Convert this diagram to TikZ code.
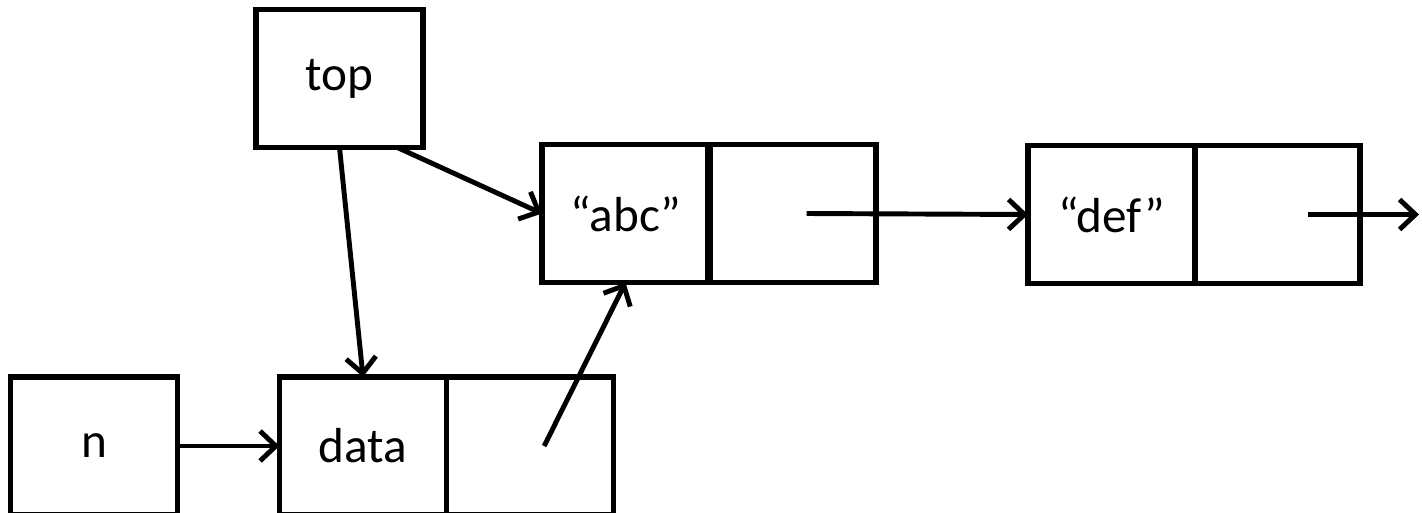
\documentclass[tikz,border=0pt]{standalone}
\usepackage{fontspec}
\setmainfont{Carlito}
\usetikzlibrary{positioning,arrows.meta}

\tikzset{
  cell/.style={draw, line width=1.6pt, minimum width=1.67cm, minimum height=1.38cm,
               inner sep=0pt, outer sep=0pt, font=\fontsize{14}{16}\selectfont},
  ptr/.style={line width=1.4pt, -{Straight Barb[length=4.5pt,width=8.5pt]}}
}

\begin{document}
\begin{tikzpicture}[x=0.01cm,y=-0.01cm]
	    \clip (0,0) rectangle (1422,512);
	    % pointer variables
	    \node[cell] (top) at (339.5,78.5) {top};
	    \node[cell] (n) at (94,446) {n};
	    % list cells
	    \node[cell] (data) at (363,446) {data};
	    \node[cell, right=0pt of data] (datanext) {};
	    \node[cell] (abc) at (625.5,213.5) {``abc''};
	    \node[cell, right=0pt of abc, line width=1.6pt] (abcnext) {};
	    \draw[line width=2.2pt] (abc.north east) -- (abc.south east);
	    \node[cell] (def) at (1111.5,214.5) {``def''};
	    \node[cell, right=0pt of def, minimum width=1.65cm] (defnext) {};
	    \coordinate (rest) at (1419,214.5);
	    % links
	    \draw[ptr] (top.south) -- (data.north);
	    \draw[ptr] (top.-50) -- (abc.west);
	    \draw[ptr] (n.east) -- (data.west);
	    \draw[ptr] ([xshift=4pt]datanext.center) -- (abc.south);
	    \draw[ptr] ([xshift=4pt]abcnext.center) -- (def.west);
	    \draw[ptr] ([xshift=8.5pt]defnext.center) -- (rest);
\end{tikzpicture}
\end{document}
